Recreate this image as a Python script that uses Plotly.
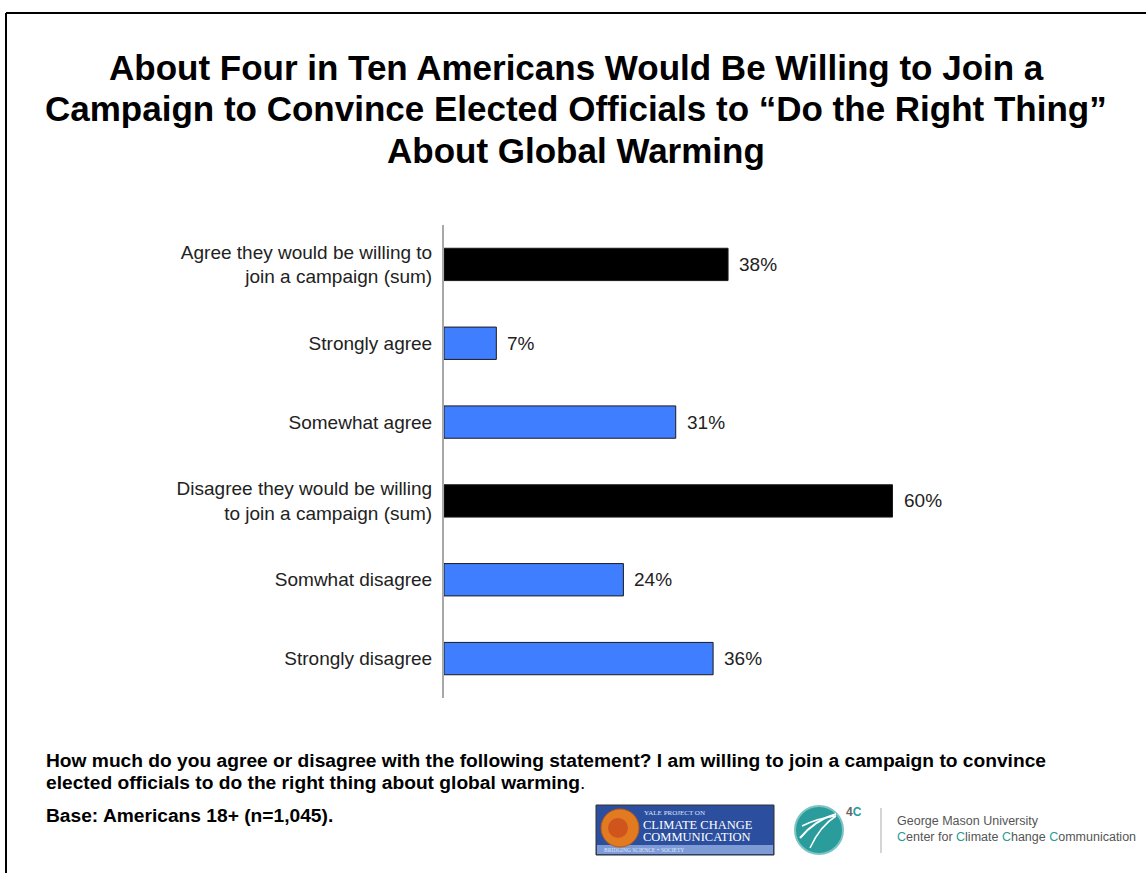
import plotly.graph_objects as go

categories = [
    "Agree they would be willing to<br>join a campaign (sum)",
    "Strongly agree",
    "Somewhat agree",
    "Disagree they would be willing<br>to join a campaign (sum)",
    "Somwhat disagree",
    "Strongly disagree",
]
values = [38, 7, 31, 60, 24, 36]
bar_colors = ["#000000", "#3f7fff", "#3f7fff", "#000000", "#3f7fff", "#3f7fff"]
value_labels = [f"{v}%" for v in values]

title_lines = [
    "About Four in Ten Americans Would Be Willing to Join a",
    "Campaign to Convince Elected Officials to \u201cDo the Right Thing\u201d",
    "About Global Warming",
]
footer_lines = [
    "<b>How much do you agree or disagree with the following statement? I am willing to join a campaign to convince</b>",
    "<b>elected officials to do the right thing about global warming</b>.",
]
base_text = "<b>Base: Americans 18+ (n=1,045).</b>"

W, H = 1146, 873
L, R, T, B = 444, 1042, 225, 698


def px(x):
    return (x - L) / (R - L)


def py(y):
    return (B - y) / (B - T)


fig = go.Figure()
fig.add_trace(go.Bar(
    y=categories, x=values, orientation="h",
    marker=dict(color=bar_colors, line=dict(color="#1a1a1a", width=1)),
    width=0.41, hoverinfo="skip",
))

sans = "Liberation Sans, Arial"
annotations = []
for c, v, t in zip(categories, values, value_labels):
    annotations.append(dict(x=v, y=c, xref="x", yref="y", text=t, showarrow=False,
                            xanchor="left", xshift=9,
                            font=dict(family=sans, size=19, color="#222")))

for yy, line in zip([67, 108, 150], title_lines):
    annotations.append(dict(
        x=px(576), y=py(yy), xref="paper", yref="paper", showarrow=False,
        text="<b>" + line + "</b>",
        font=dict(family=sans, size=35, color="#000"),
        xanchor="center", yanchor="middle"))

foot_font = dict(family=sans, size=19.2, color="#000")
for yy, line in zip([760, 782], footer_lines):
    annotations.append(dict(
        x=px(44), y=py(yy), xref="paper", yref="paper", showarrow=False,
        text=line, font=foot_font, xanchor="left", yanchor="middle"))
annotations.append(dict(
    x=px(44), y=py(815), xref="paper", yref="paper", showarrow=False,
    text=base_text, font=foot_font, xanchor="left", yanchor="middle"))

# Yale logo text
serif = "Liberation Serif, Times New Roman"
yale = [
    dict(x=px(642), y=py(813), text="YALE PROJECT ON", font=dict(family=serif, size=7, color="#dde6ff")),
    dict(x=px(641), y=py(825), text="CLIMATE CHANGE", font=dict(family=serif, size=12.5, color="#ffffff")),
    dict(x=px(641), y=py(837), text="COMMUNICATION", font=dict(family=serif, size=12.5, color="#ffffff")),
    dict(x=px(602), y=py(850), text="BRIDGING SCIENCE + SOCIETY", font=dict(family=serif, size=5.5, color="#dde6ff")),
]
for a in yale:
    a.update(xref="paper", yref="paper", showarrow=False, xanchor="left", yanchor="middle")
annotations += yale

teal = "#2a9c9c"
gmu = [
    dict(x=px(844), y=py(812), text="<b><span style='color:#666'>4</span><span style='color:%s'>C</span></b>" % teal,
         font=dict(family=sans, size=12)),
    dict(x=px(895), y=py(821), text="George Mason University", font=dict(family=sans, size=12.5, color="#555")),
    dict(x=px(895), y=py(837),
         text="<span style='color:%s'>C</span>enter for <span style='color:%s'>C</span>limate "
              "<span style='color:%s'>C</span>hange <span style='color:%s'>C</span>ommunication" % (teal, teal, teal, teal),
         font=dict(family=sans, size=12.5, color="#555")),
]
for a in gmu:
    a.update(xref="paper", yref="paper", showarrow=False, xanchor="left", yanchor="middle")
annotations += gmu

shapes = [
    # border
    dict(type="line", x0=px(6), x1=px(1150), y0=py(13), y1=py(13), line=dict(color="#000", width=2)),
    dict(type="line", x0=px(6), x1=px(6), y0=py(13), y1=py(880), line=dict(color="#000", width=2)),
    # Yale logo
    dict(type="rect", x0=px(596), x1=px(774), y0=py(805), y1=py(855), fillcolor="#2b4f9e",
         line=dict(color="#333", width=1)),
    dict(type="rect", x0=px(597), x1=px(773), y0=py(845), y1=py(854), fillcolor="#7f9bd6",
         line=dict(width=0)),
    dict(type="circle", x0=px(601), x1=px(639), y0=py(809), y1=py(847), fillcolor="#e27a22",
         line=dict(color="#b85a10", width=1)),
    dict(type="circle", x0=px(608), x1=px(628), y0=py(818), y1=py(838), fillcolor="#c8461a",
         line=dict(width=0), opacity=0.7),
    # 4C logo
    dict(type="circle", x0=px(795), x1=px(843), y0=py(806), y1=py(854), fillcolor=teal,
         line=dict(color="#7cc4c4", width=2)),
    dict(type="path", path=f"M {px(800)} {py(838)} Q {px(815)} {py(820)} {px(836)} {py(814)}",
         line=dict(color="#ffffff", width=2)),
    dict(type="path", path=f"M {px(802)} {py(826)} Q {px(818)} {py(818)} {px(836)} {py(816)}",
         line=dict(color="#ffffff", width=1.5)),
    dict(type="path", path=f"M {px(810)} {py(848)} Q {px(820)} {py(826)} {px(836)} {py(816)}",
         line=dict(color="#ffffff", width=1.5)),
    # separator
    dict(type="line", x0=px(881), x1=px(881), y0=py(808), y1=py(853), line=dict(color="#aaa", width=1)),
]
for s in shapes:
    s.update(xref="paper", yref="paper")

fig.update_layout(
    width=W, height=H,
    margin=dict(l=L, r=W - R, t=T, b=H - B, pad=0),
    paper_bgcolor="#ffffff", plot_bgcolor="#ffffff",
    showlegend=False,
    xaxis=dict(range=[0, 80], visible=False, fixedrange=True),
    yaxis=dict(autorange=False, range=[5.5, -0.5], type="category",
               showline=True, linecolor="#a8a8a8", linewidth=2,
               ticks="", ticklabelstandoff=6, fixedrange=True,
               tickfont=dict(family=sans, size=19, color="#222"),
               showgrid=False, zeroline=False),
    annotations=annotations,
    shapes=shapes,
    bargap=0.6,
)

fig.write_html("out.html", config={"displayModeBar": False},
               post_script="document.body.style.margin='0';document.body.style.overflow='hidden';")
